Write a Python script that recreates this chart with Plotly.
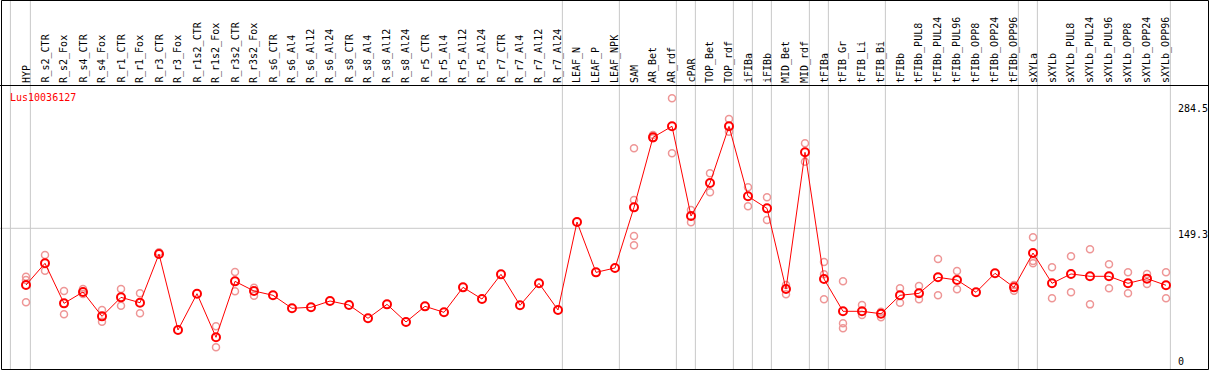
import plotly.graph_objects as go

categories = ["HYP", "R_s2_CTR", "R_s2_Fox", "R_s4_CTR", "R_s4_Fox", "R_r1_CTR", "R_r1_Fox",
              "R_r3_CTR", "R_r3_Fox", "R_r1s2_CTR", "R_r1s2_Fox", "R_r3s2_CTR", "R_r3s2_Fox",
              "R_s6_CTR", "R_s6_Al4", "R_s6_Al12", "R_s6_Al24", "R_s8_CTR", "R_s8_Al4", "R_s8_Al12",
              "R_s8_Al24", "R_r5_CTR", "R_r5_Al4", "R_r5_Al12", "R_r5_Al24", "R_r7_CTR", "R_r7_Al4",
              "R_r7_Al12", "R_r7_Al24", "LEAF_N", "LEAF_P", "LEAF_NPK", "SAM", "AR_Bet", "AR_rdf",
              "cPAR", "TOP_Bet", "TOP_rdf", "iFIBa", "iFIBb", "MID_Bet", "MID_rdf", "tFIBa",
              "tFIB_Gr", "tFIB_Li", "tFIB_Bi", "tFIBb", "tFIBb_PUL8", "tFIBb_PUL24", "tFIBb_PUL96",
              "tFIBb_OPP8", "tFIBb_OPP24", "tFIBb_OPP96", "sXYLa", "sXYLb", "sXYLb_PUL8",
              "sXYLb_PUL24", "sXYLb_PUL96", "sXYLb_OPP8", "sXYLb_OPP24", "sXYLb_OPP96"]

means = [88.7, 111.9, 69.1, 81.2, 55.2, 75.5, 69.8, 121.8, 40.6, 79.4, 32.8, 92.6, 82.3,
         77.7, 63.8, 64.9, 71.6, 67.3, 53.1, 68.0, 49.2, 65.9, 59.5, 86.2, 73.7, 100.1, 67.0,
         90.5, 62.0, 156.0, 102.2, 106.9, 171.7, 246.5, 258.3, 162.4, 197.7, 258.3, 183.5,
         170.6, 84.4, 230.5, 95.1, 60.6, 60.6, 58.0, 77.7, 79.8, 96.9, 94.0, 80.9, 101.2, 86.2,
         122.9, 90.5, 100.5, 98.0, 98.0, 90.5, 95.5, 88.4]

replicates = [[97.6, 94.0, 70.2], [120.8, 104.0], [82.3, 57.4], [84.4, 79.1], [62.0, 49.5],
              [84.4, 66.6], [79.8, 58.4], [123.6], [], [], [44.5, 22.1], [102.6, 82.0],
              [85.8, 77.3], [], [], [], [], [], [], [], [], [], [], [], [], [], [], [], [],
              [], [], [], [234.8, 179.5, 141.1, 131.1], [249.0, 245.5], [288.2, 229.5],
              [168.9, 155.7], [208.1, 187.8], [266.1, 252.5], [193.1, 172.8], [182.4, 158.2],
              [88.7, 78.8], [240.1, 220.5], [113.3, 100.1, 73.4], [92.6, 47.8, 42.4],
              [67.3, 56.6], [60.2, 54.2], [85.2, 69.8], [87.6, 73.4], [116.5, 77.7],
              [103.7, 84.1], [], [], [88.7, 82.6], [139.7, 114.4, 111.9], [107.6, 74.5],
              [119.4, 80.9], [126.9, 68.0], [110.8, 85.2], [102.3, 79.8], [100.5, 89.8],
              [102.3, 74.5]]

group_ends = ["HYP", "R_r7_Al24", "LEAF_NPK", "AR_rdf", "cPAR", "TOP_rdf", "iFIBa", "iFIBb",
              "MID_rdf", "tFIBa", "tFIB_Bi", "tFIBb_OPP96", "sXYLa", "sXYLb_OPP96"]

tick_values = [284.5, 149.3, 0]
tick_labels = ["284.5", "149.3", "0"]
grid_value = 149.3
gene_id = "Lus10036127"

W, H = 1209, 370
FONT = "DejaVu Sans Mono"
RED = "#ff0000"
PINK = "rgb(238,150,150)"
GRID = "#c8c8c8"

# pixel geometry of the original: column i sits at 26 + 19*i px; value v at 368 - 0.9357*v px
x_lo = (0 - 26) / 19
x_hi = (W - 26) / 19
y_hi = 368 / 0.9357
y_lo = (368 - H) / 0.9357

rep_x, rep_y = [], []
for c, reps in zip(categories, replicates):
    for r in reps:
        rep_x.append(c)
        rep_y.append(r)

fig = go.Figure()
fig.add_trace(go.Scatter(x=rep_x, y=rep_y, mode="markers",
                         marker=dict(symbol="circle-open", size=7, color=PINK,
                                     line=dict(width=1.5, color=PINK)),
                         hoverinfo="skip", showlegend=False))
fig.add_trace(go.Scatter(x=categories, y=means, mode="lines+markers",
                         line=dict(color=RED, width=1),
                         marker=dict(symbol="circle-open", size=8, color=RED,
                                     line=dict(width=2, color=RED)),
                         showlegend=False))

shapes = []
idx = {c: i for i, c in enumerate(categories)}
sep_off = 0.23
# left edge line
shapes.append(dict(type="line", xref="x", yref="paper", x0=-1 + sep_off - 0.05, x1=-1 + sep_off - 0.05,
                   y0=0, y1=1, line=dict(color=GRID, width=1), layer="below"))
for g in group_ends:
    xv = idx[g] + sep_off
    shapes.append(dict(type="line", xref="x", yref="paper", x0=xv, x1=xv, y0=0, y1=1,
                       line=dict(color=GRID, width=1), layer="below"))
shapes.append(dict(type="line", xref="x", yref="y", x0=x_lo, x1=idx[group_ends[-1]] + sep_off,
                   y0=grid_value, y1=grid_value, line=dict(color=GRID, width=1), layer="below"))
# header separator
hy = 1 - 85.5 / H
shapes.append(dict(type="line", xref="paper", yref="paper", x0=0, x1=1, y0=hy, y1=hy,
                   line=dict(color="black", width=1)))
# outer frame
shapes.append(dict(type="rect", xref="paper", yref="paper", x0=1.5 / W, x1=1 - 0.5 / W,
                   y0=0.5 / H, y1=1 - 0.5 / H, line=dict(color="black", width=1)))

annotations = []
for c in categories:
    annotations.append(dict(x=c, xref="x", y=1 - 84 / H, yref="paper", text=c, textangle=-90,
                            showarrow=False, xanchor="center", yanchor="bottom",
                            font=dict(family=FONT, size=10, color="black"), borderpad=0))
xr = (1177 - 26) / 19
for v, t in zip(tick_values, tick_labels):
    annotations.append(dict(x=xr, xref="x", y=v, yref="y", text=t, showarrow=False,
                            xanchor="left", yanchor="top" if v > 0 else "bottom",
                            font=dict(family=FONT, size=10, color="black"), borderpad=0))
annotations.append(dict(x=9 / W, xref="paper", y=1 - 91 / H, yref="paper", text=gene_id,
                        showarrow=False, xanchor="left", yanchor="top",
                        font=dict(family=FONT, size=10, color=RED), borderpad=0))

fig.update_layout(
    width=W, height=H, margin=dict(l=0, r=0, t=0, b=0),
    paper_bgcolor="white", plot_bgcolor="white",
    xaxis=dict(type="category", categoryorder="array", categoryarray=categories,
               range=[x_lo, x_hi], visible=False, fixedrange=True),
    yaxis=dict(range=[y_lo, y_hi], visible=False, fixedrange=True),
    shapes=shapes, annotations=annotations, showlegend=False,
)

fig.write_html("out.html", config={"displayModeBar": False},
               post_script="document.body.style.margin='0';document.body.style.padding='0';")
